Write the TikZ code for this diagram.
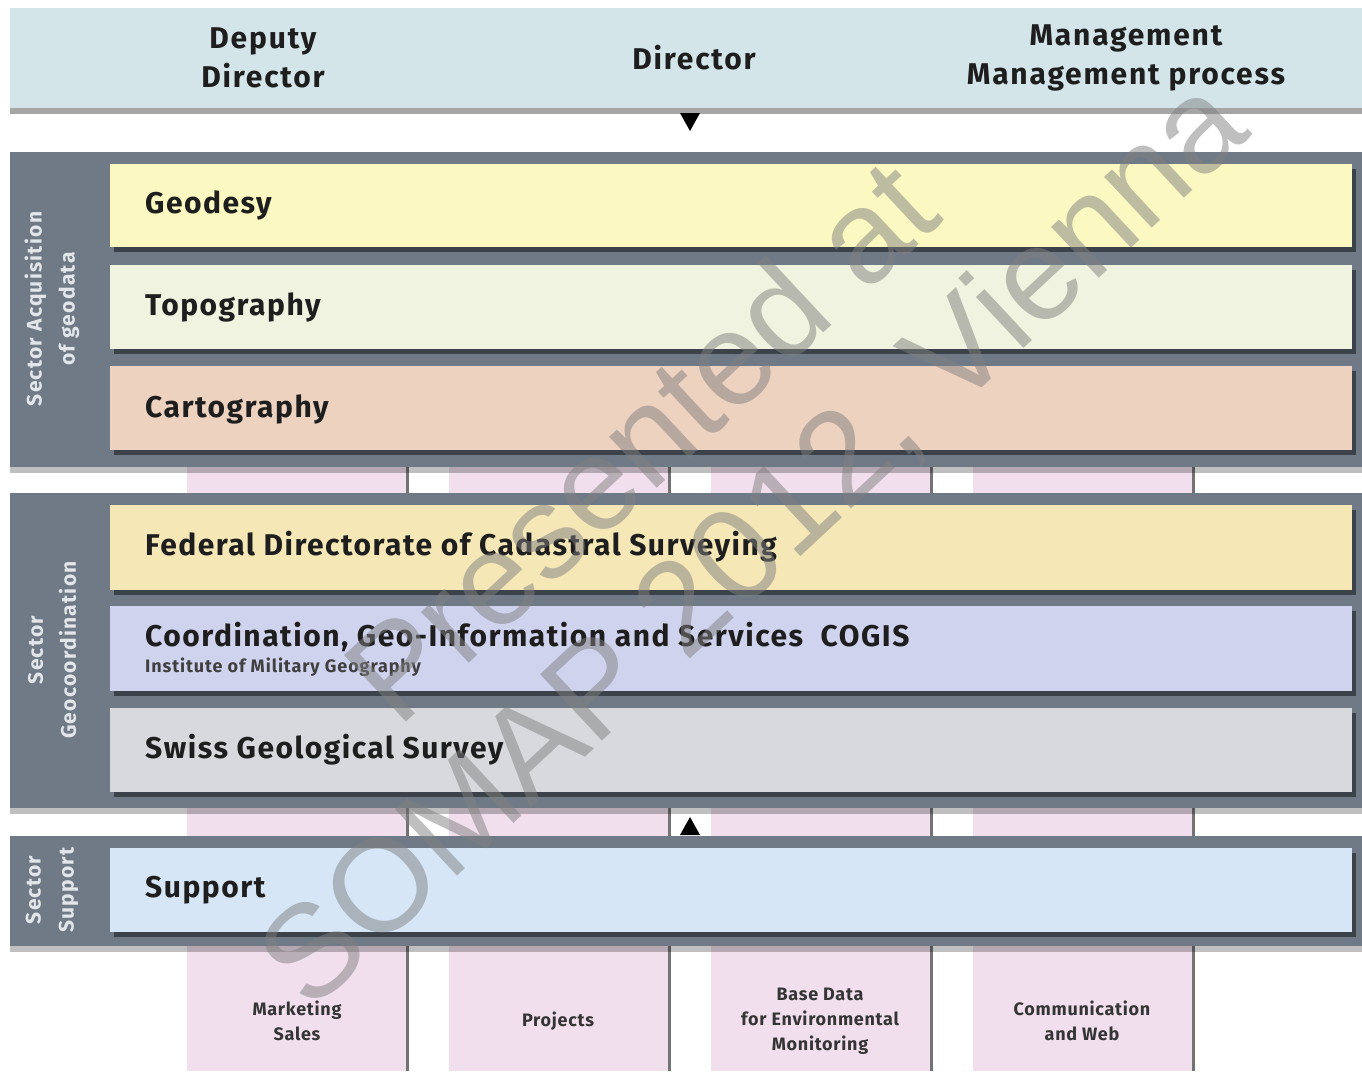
\documentclass[tikz,border=0pt]{standalone}
\usepackage{fontspec}
\setmainfont{Fira Sans}
\newfontfamily\barfont[LetterSpace=5]{Fira Sans}
\newfontfamily\hdrfont[LetterSpace=6]{Fira Sans}
\newfontfamily\secfont[LetterSpace=6]{Fira Sans}
\newfontfamily\colfont[LetterSpace=4]{Fira Sans}
\newfontfamily\wmfont{Liberation Sans}
\usetikzlibrary{shadows}
\definecolor{hdr}{HTML}{D4E5EA}
\definecolor{panel}{HTML}{6F7A86}
\definecolor{cgeo}{HTML}{FBF8C1}
\definecolor{ctopo}{HTML}{EFF3DF}
\definecolor{ccarto}{HTML}{EDD2C0}
\definecolor{cfed}{HTML}{F6E7B7}
\definecolor{ccogis}{HTML}{CFD3EE}
\definecolor{cswiss}{HTML}{D7D9DC}
\definecolor{csupp}{HTML}{D6E6F7}
\definecolor{cpink}{HTML}{F1DFEE}
\definecolor{ink}{HTML}{1E1E1E}
\definecolor{seclab}{HTML}{E2E6EA}
\begin{document}
\begin{tikzpicture}[x=1pt,y=-1pt,
  box/.style={draw=none,inner sep=0pt,outer sep=0pt,anchor=north west},
  barbox/.style={box,drop shadow={shadow xshift=4pt,shadow yshift=-5pt,fill=black,opacity=0.45}},
  panelbox/.style={box,fill=panel,drop shadow={shadow xshift=0pt,shadow yshift=-6pt,fill=black,opacity=0.25}},
  bartext/.style={anchor=west,inner sep=0pt,text=ink,font=\barfont\bfseries\fontsize{30}{36}\selectfont},
  subtext/.style={anchor=west,inner sep=0pt,text=ink!85,font=\barfont\bfseries\fontsize{18}{20}\selectfont},
  hdrtext/.style={align=center,text=ink,font=\hdrfont\bfseries\fontsize{30}{39}\selectfont},
  sectext/.style={rotate=90,align=center,text=seclab,font=\secfont\bfseries\fontsize{21}{33}\selectfont},
  coltext/.style={align=center,text=ink!90,font=\colfont\bfseries\fontsize{18}{25}\selectfont},
  colbox/.style={box,fill=cpink},
  tri/.style={fill=black,draw=none},
  wm/.style={text=gray,opacity=0.5,font=\wmfont\fontsize{132}{132}\selectfont}]
\useasboundingbox[fill=white] (0,0) rectangle (1362,1071);

% pink columns (behind panels)
\foreach \x/\n in {187/c1,449/c2,711/c3,973/c4}{
  \node[colbox,minimum width=220pt,minimum height=611pt] (\n) at (\x,460) {};
  \draw[line width=3pt,color=black!55] (\n.north east) -- (\n.south east);
}
\node[coltext] (t1) at (297,1021) {Marketing\\Sales};
\node[coltext] (t2) at (558,1021) {Projects};
\node[coltext] (t3) at (820,1021) {Base Data\\for Environmental\\Monitoring};
\node[coltext] (t4) at (1082,1021) {Communication\\and Web};

% header
\node[box,fill=hdr,minimum width=1352pt,minimum height=100pt,
  drop shadow={shadow xshift=0pt,shadow yshift=-6pt,fill=black,opacity=0.35}] (hdr) at (10,8) {};
\node[hdrtext] (dep) at (263,58) {Deputy\\Director};
\node[hdrtext] (dir) at (694,58) {Director};
\node[hdrtext] (mgt) at (1126,58) {Management\\Management process};

% panels
\node[panelbox,minimum width=1352pt,minimum height=315pt] (p1) at (10,152) {};
\node[panelbox,minimum width=1352pt,minimum height=315pt] (p2) at (10,493) {};
\node[panelbox,minimum width=1352pt,minimum height=110pt] (p3) at (10,836) {};

\node[sectext] (s1) at (52,309) {Sector Acquisition\\of geodata};
\node[sectext] (s2) at (52,650) {Sector\\Geocoordination};
\node[sectext] (s3) at (52,890) {Sector\\Support};

% bars
\node[barbox,fill=cgeo,minimum width=1242pt,minimum height=83pt] (geo) at (110,164) {};
\node[barbox,fill=ctopo,minimum width=1242pt,minimum height=84pt] (topo) at (110,265) {};
\node[barbox,fill=ccarto,minimum width=1242pt,minimum height=84pt] (carto) at (110,366) {};
\node[barbox,fill=cfed,minimum width=1242pt,minimum height=85pt] (fed) at (110,505) {};
\node[barbox,fill=ccogis,minimum width=1242pt,minimum height=85pt] (cogis) at (110,606) {};
\node[barbox,fill=cswiss,minimum width=1242pt,minimum height=84pt] (swiss) at (110,708) {};
\node[barbox,fill=csupp,minimum width=1242pt,minimum height=84pt] (supp) at (110,848) {};

\node[bartext] (lgeo) at (145,205) {Geodesy};
\node[bartext] (ltopo) at (145,307) {Topography};
\node[bartext] (lcarto) at (145,409) {Cartography};
\node[bartext] (lfed) at (145,547) {Federal Directorate of Cadastral Surveying};
\node[bartext] (lcogis) at (145,637) {Coordination, Geo-Information and Services\hspace{0.3em} COGIS};
\node[subtext] (lmil) at (145,667) {Institute of Military Geography};
\node[bartext] (lswiss) at (145,750) {Swiss Geological Survey};
\node[bartext] (lsupp) at (145,890) {Support};

% triangles
\node[inner sep=0pt] (dn) at (690,122) {};
\fill[tri] ([shift={(-10,-9)}]dn.center) -- ([shift={(10,-9)}]dn.center) -- ([shift={(0,9)}]dn.center) -- cycle;
\node[inner sep=0pt] (up) at (690,826) {};
\fill[tri] ([shift={(-10,9)}]up.center) -- ([shift={(10,9)}]up.center) -- ([shift={(0,-9)}]up.center) -- cycle;

% watermark
\node[wm,rotate=43] (wm1) at (640,440) {Presented at};
\node[wm,rotate=43] (wm2) at (755,545) {SOMAP 2012, Vienna};
\end{tikzpicture}
\end{document}
